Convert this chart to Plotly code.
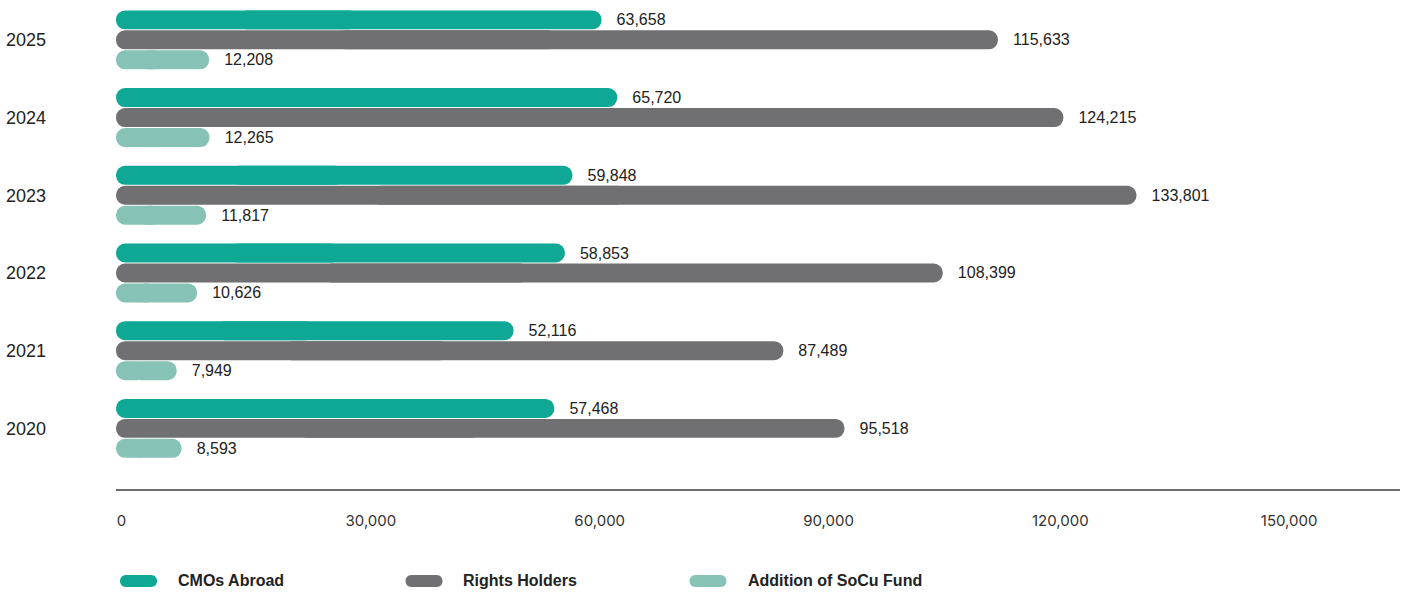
import plotly.graph_objects as go

# Payout data by year (values in thousands)
years = ["2025", "2024", "2023", "2022", "2021", "2020"]
cmos_abroad = [63658, 65720, 59848, 58853, 52116, 57468]
rights_holders = [115633, 124215, 133801, 108399, 87489, 95518]
socu_fund = [12208, 12265, 11817, 10626, 7949, 8593]
series_names = ["CMOs Abroad", "Rights Holders", "Addition of SoCu Fund"]
x_tick_values = [0, 30000, 60000, 90000, 120000, 150000]

colors = ["#0fa895", "#706f71", "#86c3b6"]
series_values = [cmos_abroad, rights_holders, socu_fund]

W, H = 1411, 592
M_L, M_R, M_T, M_B = 116, 11, 1, 103
PW, PH = W - M_L - M_R, H - M_T - M_B

LABEL_PAD = "\u00a0\u00a0\u2009"

fig = go.Figure()
for name, vals, color in zip(series_names, series_values, colors):
    # left part: rounded cap at the zero end
    fig.add_trace(go.Bar(
        y=years, x=[-v / 2 for v in vals], base=[v / 2 for v in vals],
        orientation="h", offsetgroup=name, showlegend=False, hoverinfo="skip",
        marker=dict(color=color, line_width=0, cornerradius="50%"),
    ))
    # right part: rounded cap at the value end, carries the value label
    fig.add_trace(go.Bar(
        y=years, x=[v * 3 / 4 for v in vals], base=[v / 4 for v in vals],
        orientation="h", offsetgroup=name, name=name, showlegend=False,
        marker=dict(color=color, line_width=0, cornerradius="50%"),
        text=[LABEL_PAD + f"{v:,}" for v in vals],
        textposition="outside", constraintext="none", cliponaxis=False,
        textfont=dict(family="Liberation Sans", size=16, color="#222222"),
        customdata=vals, hovertemplate="%{y}: %{customdata:,}<extra>" + name + "</extra>",
    ))

# Legend: pill swatches plus bold labels below the axis
def px_to_paper_x(px):
    return (px - M_L) / PW

def px_to_paper_y(py):
    return (M_T + PH - py) / PH

def pill_path(w=37, h=12):
    r = h / 2
    a = w / 2 - r
    k = 4 / 3 * r
    return (f"M {-a},{-r} L {a},{-r} C {a + k},{-r} {a + k},{r} {a},{r} "
            f"L {-a},{r} C {-a - k},{r} {-a - k},{-r} {-a},{-r} Z")

legend_swatch_x = [138.5, 424, 708]
legend_text_x = [176, 461, 746]
legend_y = 581
shapes = []
annotations = []
for name, color, sx, tx in zip(series_names, colors, legend_swatch_x, legend_text_x):
    shapes.append(dict(
        type="path", xref="paper", yref="paper", xsizemode="pixel", ysizemode="pixel",
        xanchor=px_to_paper_x(sx), yanchor=px_to_paper_y(legend_y),
        path=pill_path(), fillcolor=color, line=dict(width=0),
    ))
    annotations.append(dict(
        xref="paper", yref="paper", x=px_to_paper_x(tx), y=px_to_paper_y(legend_y),
        xanchor="left", yanchor="middle", showarrow=False,
        text=f"<b>{name}</b>",
        font=dict(family="Liberation Sans", size=16, color="#222222"),
    ))

fig.update_layout(
    width=W, height=H,
    margin=dict(l=M_L, r=M_R, t=M_T, b=M_B),
    paper_bgcolor="white", plot_bgcolor="white",
    barmode="group", bargap=0.229, bargroupgap=0.05,
    showlegend=False,
    font=dict(family="Liberation Sans", color="#222222"),
    shapes=shapes, annotations=annotations,
    xaxis=dict(
        range=[0, 168350], showgrid=False, zeroline=False,
        showline=True, linecolor="#6b6b6b", linewidth=1.5,
        tickvals=x_tick_values, ticktext=[f"{v:,}" for v in x_tick_values],
        ticks="", ticklabelposition="outside right", ticklabelstandoff=17,
        tickfont=dict(family="Inter", size=15, color="#333333"),
    ),
    yaxis=dict(
        type="category", categoryorder="array", categoryarray=years,
        range=[5.78, -0.5], showgrid=False, zeroline=False, showline=False,
        ticks="", ticklabelstandoff=69,
        tickfont=dict(family="Liberation Sans", size=18, color="#222222"),
    ),
)

fig.write_html("out.html")
